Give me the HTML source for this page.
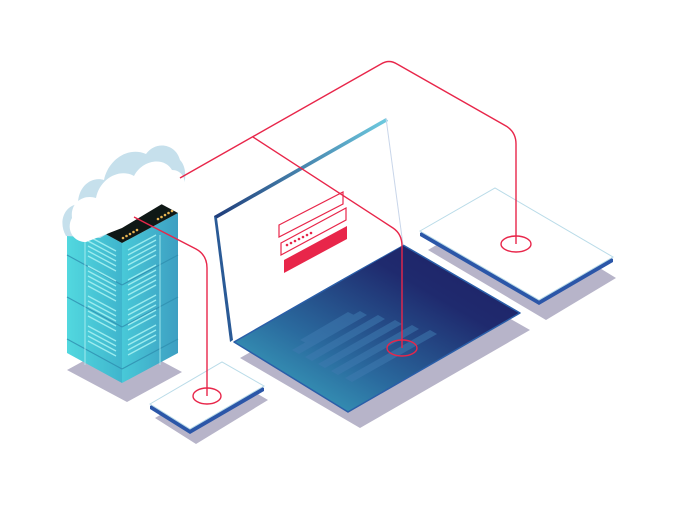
<!DOCTYPE html>
<html><head><meta charset="utf-8"><style>html,body{margin:0;padding:0;background:#fff;}svg{display:block}</style></head>
<body>
<svg width="676" height="507" viewBox="0 0 676 507" xmlns="http://www.w3.org/2000/svg">
<defs>
<linearGradient id="kb" x1="0" y1="1" x2="1" y2="0">
<stop offset="0" stop-color="#3fb6c9"/><stop offset="0.35" stop-color="#2a6a9e"/><stop offset="0.7" stop-color="#1f2a6e"/><stop offset="1" stop-color="#1e1f64"/>
</linearGradient>
<linearGradient id="srvL" x1="0" y1="0" x2="1" y2="0">
<stop offset="0" stop-color="#52d8df"/><stop offset="1" stop-color="#3fb5cd"/>
</linearGradient>
<linearGradient id="srvR" x1="0" y1="0" x2="1" y2="0">
<stop offset="0" stop-color="#48c9d8"/><stop offset="1" stop-color="#3d9fc2"/>
</linearGradient>
<linearGradient id="scrEdge" x1="0" y1="0" x2="1" y2="0">
<stop offset="0" stop-color="#1f3c7a"/><stop offset="1" stop-color="#6ecbe0"/>
</linearGradient>
</defs>

<!-- shadows -->
<polygon points="67,370 122,340 182,372 127,402" fill="#b7b4c9"/>
<polygon points="240,358 410,262 530,330 360,428" fill="#b7b4c9"/>
<polygon points="428,250 500,207 616,278 546,320" fill="#b7b4c9"/>
<polygon points="155,418 227,376 268,400 196,444" fill="#b7b4c9"/>

<!-- server -->
<polygon points="67,213 122,243 122,383 67,353" fill="url(#srvL)"/>
<polygon points="122,243 178,213 178,353 122,383" fill="url(#srvR)"/>
<g stroke="#2f8fb0" stroke-width="1.2" opacity="0.8">
<line x1="67" y1="255" x2="122" y2="285"/><line x1="122" y1="285" x2="178" y2="255"/>
<line x1="67" y1="297" x2="122" y2="327"/><line x1="122" y1="327" x2="178" y2="297"/>
<line x1="67" y1="339" x2="122" y2="369"/><line x1="122" y1="369" x2="178" y2="339"/>
</g>
<g stroke="#b6f2f5" stroke-width="1" opacity="0.8">
<line x1="85" y1="235" x2="85" y2="365"/><line x1="160" y1="235" x2="160" y2="365"/>
</g>
<g stroke="#9cecef" stroke-width="1.3">
<path d="M88,236 l28,15 M88,241 l28,15 M88,246 l28,15 M88,251 l28,15 M88,256 l28,15 M88,266 l28,15 M88,271 l28,15 M88,276 l28,15 M88,281 l28,15 M88,286 l28,15 M88,296 l28,15 M88,301 l28,15 M88,306 l28,15 M88,311 l28,15 M88,316 l28,15 M88,326 l28,15 M88,331 l28,15 M88,336 l28,15 M88,341 l28,15"/>
<path d="M128,250 l28,-15 M128,255 l28,-15 M128,260 l28,-15 M128,265 l28,-15 M128,270 l28,-15 M128,280 l28,-15 M128,285 l28,-15 M128,290 l28,-15 M128,295 l28,-15 M128,300 l28,-15 M128,310 l28,-15 M128,315 l28,-15 M128,320 l28,-15 M128,325 l28,-15 M128,330 l28,-15 M128,340 l28,-15 M128,345 l28,-15 M128,350 l28,-15 M128,355 l28,-15"/>
</g>
<polygon points="67,213 122,183 178,213 122,243" fill="#0f1816"/>
<g fill="#e8b552">
<circle cx="123" cy="238" r="1.3"/><circle cx="126.5" cy="236" r="1.3"/><circle cx="130" cy="234" r="1.3"/><circle cx="133.5" cy="232" r="1.3"/><circle cx="137" cy="230" r="1.3"/>
<circle cx="158" cy="219" r="1.3"/><circle cx="161.5" cy="217" r="1.3"/><circle cx="165" cy="215" r="1.3"/><circle cx="168.5" cy="213" r="1.3"/><circle cx="172" cy="211" r="1.3"/>
</g>

<!-- cloud -->
<path d="M66,236 C58,222 64,206 78,204 C78,186 92,176 104,180 C108,160 128,146 146,154 C156,140 176,144 180,160 C188,168 186,186 180,192 L100,238 Z" fill="#c6e0ec"/>
<path d="M86,242 C72,242 66,228 72,218 C70,202 84,194 96,198 C100,178 120,168 134,176 C142,160 164,156 172,170 C184,170 188,184 182,192 L122,228 Z" fill="#ffffff"/>

<!-- laptop base -->
<polygon points="234,342 403,245 520,313 348,412" fill="url(#kb)" stroke="#2a5ea8" stroke-width="1.5" stroke-linejoin="round"/>
<g fill="#3f7ab0" opacity="0.55">
<polygon points="292,350 360,311 367,315 299,354"/>
<polygon points="305,357 378,315 385,319 312,361"/>
<polygon points="318,364 395,320 402,324 325,368"/>
<polygon points="331,371 412,325 419,329 338,375"/>
<polygon points="345,378 430,330 437,334 352,382"/>
<polygon points="300,340 348,312 354,315 306,343"/>
</g>
<!-- screen -->
<polygon points="214,216 386,118 403,245 230,342" fill="#ffffff"/>
<polygon points="214,216 386,118 388,121 216,219" fill="url(#scrEdge)"/>
<polygon points="214,216 217,218 233,340 230,342" fill="#2a5a96"/>
<line x1="386" y1="118" x2="403" y2="245" stroke="#c9d6ea" stroke-width="1"/>
<!-- form -->
<polygon points="279,225 343,192 343,204 279,237" fill="none" stroke="#e8264a" stroke-width="1.2"/>
<polygon points="281,243 346,208 346,220 281,255" fill="none" stroke="#e8264a" stroke-width="1.2"/>
<g fill="#e8264a"><circle cx="287" cy="245" r="1.3"/><circle cx="291" cy="243" r="1.3"/><circle cx="295" cy="241" r="1.3"/><circle cx="299" cy="239" r="1.3"/><circle cx="303" cy="237" r="1.3"/><circle cx="307" cy="235" r="1.3"/><circle cx="311" cy="233" r="1.3"/></g>
<polygon points="284,260 347,226 347,239 284,273" fill="#e8264a"/>

<!-- right tablet -->
<polygon points="420,233 495,190 613,259 613,262 539,305 420,236" fill="#2b56a8"/>
<polygon points="420,231 495,188 613,257 539,300" fill="#ffffff" stroke="#b9dbe8" stroke-width="1"/>

<!-- small tablet -->
<polygon points="150,406 222,364 264,388 264,391 190,434 150,409" fill="#2b56a8"/>
<polygon points="150,404 222,362 264,386 190,429" fill="#ffffff" stroke="#b9dbe8" stroke-width="1"/>

<!-- red connectors -->
<g fill="none" stroke="#e8264a" stroke-width="1.4">
<path d="M180,178 L381,64 Q389,59 397,64 L506,126 Q516,132 516,144 L516,244"/>
<path d="M253,137 L393,228 Q402,234 402,246 L402,348"/>
<path d="M134,217 L196,249 Q207,255 207,268 L207,396"/>
<ellipse cx="516" cy="244" rx="15" ry="8"/>
<ellipse cx="402" cy="348" rx="15" ry="8"/>
<ellipse cx="207" cy="396" rx="14" ry="8"/>
</g>
</svg>
</body></html>
